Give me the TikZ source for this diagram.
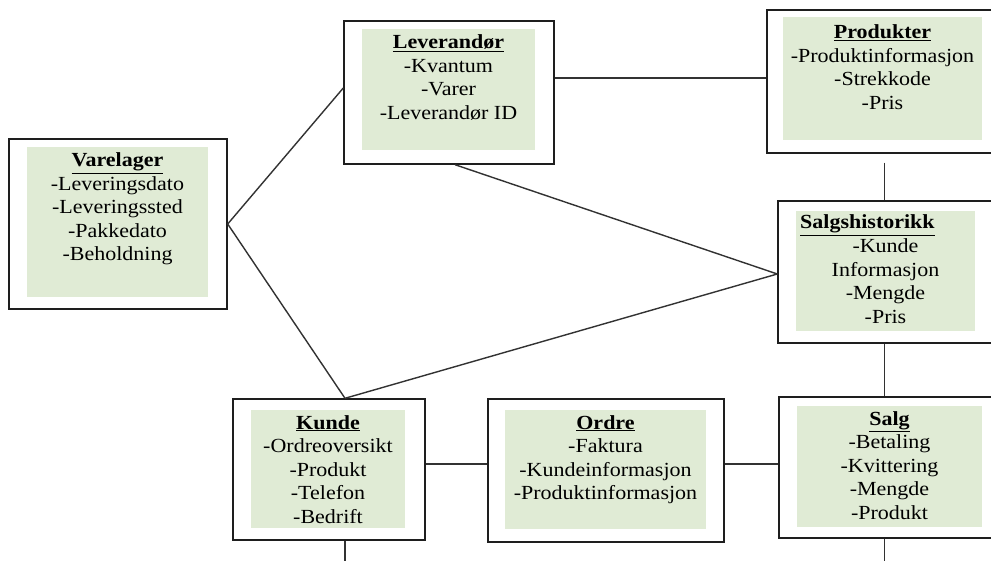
\documentclass[tikz,border=0pt]{standalone}
\usepackage{fontspec}
\setmainfont{Liberation Serif}[FakeStretch=1.1]
\usetikzlibrary{calc}
\definecolor{boxgreen}{RGB}{224,235,213}
\definecolor{edgecol}{RGB}{30,30,30}
\definecolor{linkcol}{RGB}{50,50,50}
\newcommand{\ttl}[1]{\textbf{\underline{#1}}}
\begin{document}
\begin{tikzpicture}[x=1pt,y=-1pt,
 entity/.style={draw=edgecol, line width=1.4pt, fill=white, rectangle, inner sep=0pt},
 greenbg/.style={fill=boxgreen, draw=none},
 txt/.style={align=center, inner sep=0pt, font=\fontsize{20}{23.5}\selectfont, anchor=base},
 link/.style={draw=linkcol, line width=1.4pt}]
\clip (0,0) rectangle (991,561);
\fill[white] (0,0) rectangle (991,561);

% outer boxes
\node[entity, minimum width=218pt, minimum height=170pt] (var) at (118,224) {};
\node[entity, minimum width=210pt, minimum height=143pt] (lev) at (449,92.5) {};
\node[entity, minimum width=243pt, minimum height=143pt] (prod) at (888.5,81.5) {};
\node[entity, minimum width=232pt, minimum height=142pt] (sh) at (894,272) {};
\node[entity, minimum width=192pt, minimum height=141pt] (kunde) at (329,469.5) {};
\node[entity, minimum width=236pt, minimum height=143pt] (ordre) at (606,470.5) {};
\node[entity, minimum width=231pt, minimum height=141pt] (salg) at (894.5,467.5) {};

% green panels
\fill[greenbg] (27,147) rectangle (208,297);
\fill[greenbg] (362,29) rectangle (535,150);
\fill[greenbg] (783,17) rectangle (982,140);
\fill[greenbg] (796,211) rectangle (975,331);
\fill[greenbg] (251,410) rectangle (405,528);
\fill[greenbg] (505,410) rectangle (706,529);
\fill[greenbg] (797,406) rectangle (982,527);

% texts (anchor = baseline of the last line)
\node[txt] (vartxt) at (117.5,261) {\ttl{Varelager}\\-Leveringsdato\\-Leveringssted\\-Pakkedato\\-Beholdning};
\node[txt] (levtxt) at (448.5,119.5) {\ttl{Leverandør}\\-Kvantum\\-Varer\\-Leverandør ID};
\node[txt] (prodtxt) at (882.5,109.5) {\ttl{Produkter}\\-Produktinformasjon\\-Strekkode\\-Pris};
\node[txt, anchor=base west] (shtitle) at (800,229) {\ttl{Salgshistorikk}};
\node[txt] (shtxt) at (885.5,323.5) {-Kunde\\Informasjon\\-Mengde\\-Pris};
\node[txt] (kundetxt) at (328,523) {\ttl{Kunde}\\-Ordreoversikt\\-Produkt\\-Telefon\\-Bedrift};
\node[txt] (ordretxt) at (605.5,499.5) {\ttl{Ordre}\\-Faktura\\-Kundeinformasjon\\-Produktinformasjon};
\node[txt] (salgtxt) at (889.5,519) {\ttl{Salg}\\-Betaling\\-Kvittering\\-Mengde\\-Produkt};

% connectors
\coordinate (hl) at (0,78);
\coordinate (hb) at (0,464);
\coordinate (vr) at (884.5,0);
\coordinate (salgend) at (884.5,561);
\coordinate (kend) at (345,561);
\draw[link] (var.east) -- ([yshift=4.5pt]lev.west);
\draw[link] (var.east) -- ([xshift=16pt]kunde.north);
\draw[link] ([xshift=6pt]lev.south) -- ([yshift=-2pt]sh.west);
\draw[link] ([yshift=-2pt]sh.west) -- ([xshift=16pt]kunde.north);
\draw[link] (lev.east |- hl) -- (prod.west |- hl);
\draw[link, shorten <=9pt] (prod.south -| vr) -- (sh.north -| vr);
\draw[link] (sh.south -| vr) -- (salg.north -| vr);
\draw[link] (salg.south -| vr) -- (salgend);
\draw[link] (kunde.east |- hb) -- (ordre.west |- hb);
\draw[link] (ordre.east |- hb) -- (salg.west |- hb);
\draw[link] (kunde.south -| kend) -- (kend);
\end{tikzpicture}
\end{document}
